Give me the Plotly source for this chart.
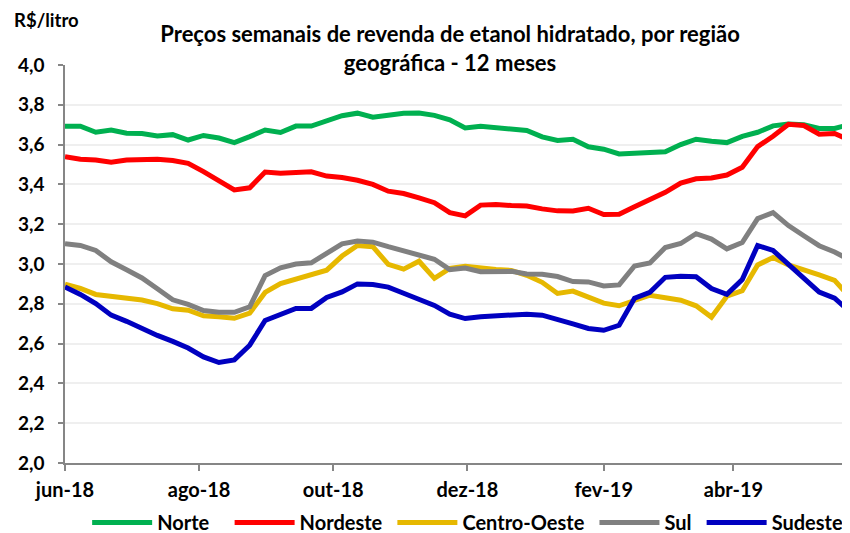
import pandas as pd
import plotly.graph_objects as go

# weekly dates (12 months)
dates = pd.date_range("2018-06-03", periods=52, freq="7D")

norte = [3.692, 3.692, 3.662, 3.673, 3.657, 3.656, 3.643, 3.650, 3.623, 3.646,
         3.633, 3.610, 3.640, 3.673, 3.661, 3.693, 3.693, 3.721, 3.745, 3.758,
         3.738, 3.747, 3.757, 3.759, 3.747, 3.725, 3.684, 3.692, 3.683, 3.677,
         3.671, 3.639, 3.621, 3.627, 3.589, 3.577, 3.553, 3.556, 3.560, 3.564,
         3.600, 3.627, 3.617, 3.610, 3.641, 3.662, 3.694, 3.703, 3.700, 3.681,
         3.681, 3.702]
nordeste = [3.539, 3.526, 3.523, 3.511, 3.522, 3.526, 3.526, 3.520, 3.506, 3.464,
            3.415, 3.372, 3.383, 3.462, 3.456, 3.460, 3.463, 3.442, 3.435, 3.421,
            3.400, 3.366, 3.354, 3.332, 3.308, 3.258, 3.242, 3.296, 3.299, 3.294,
            3.291, 3.277, 3.267, 3.266, 3.280, 3.249, 3.250, 3.288, 3.325, 3.360,
            3.407, 3.428, 3.432, 3.447, 3.486, 3.590, 3.642, 3.702, 3.696, 3.652,
            3.656, 3.622]
centro_oeste = [2.899, 2.877, 2.847, 2.837, 2.831, 2.819, 2.801, 2.775, 2.768, 2.740,
                2.735, 2.727, 2.753, 2.857, 2.902, 2.923, 2.943, 2.969, 3.040, 3.093,
                3.087, 2.998, 2.974, 3.014, 2.928, 2.978, 2.988, 2.978, 2.972, 2.968,
                2.943, 2.908, 2.852, 2.864, 2.833, 2.803, 2.790, 2.815, 2.843, 2.830,
                2.818, 2.790, 2.733, 2.838, 2.866, 2.995, 3.033, 2.995, 2.972, 2.945,
                2.918, 2.833]
sul = [3.102, 3.093, 3.068, 3.011, 2.971, 2.930, 2.876, 2.820, 2.797, 2.766,
       2.758, 2.757, 2.785, 2.942, 2.981, 3.000, 3.006, 3.055, 3.101, 3.115,
       3.110, 3.087, 3.066, 3.040, 3.024, 2.972, 2.980, 2.961, 2.963, 2.963,
       2.950, 2.948, 2.937, 2.912, 2.910, 2.890, 2.895, 2.990, 3.005, 3.083,
       3.103, 3.152, 3.125, 3.076, 3.108, 3.228, 3.258, 3.193, 3.142, 3.092,
       3.060, 3.020]
sudeste = [2.884, 2.847, 2.801, 2.743, 2.712, 2.673, 2.641, 2.611, 2.578, 2.533,
           2.505, 2.518, 2.592, 2.716, 2.744, 2.777, 2.777, 2.832, 2.860, 2.900,
           2.897, 2.884, 2.853, 2.823, 2.792, 2.748, 2.726, 2.735, 2.740, 2.740,
           2.748, 2.743, 2.718, 2.699, 2.676, 2.667, 2.692, 2.828, 2.858, 2.933,
           2.938, 2.936, 2.877, 2.848, 2.922, 3.093, 3.068, 2.997, 2.922, 2.859,
           2.828, 2.760]

series_names = ["Norte", "Nordeste", "Centro-Oeste", "Sul", "Sudeste"]
series_values = [norte, nordeste, centro_oeste, sul, sudeste]
series_colors = ["#00B050", "#FF0000", "#E6B800", "#808080", "#0000C0"]
legend_pad = [3, 1, 1, 1, 0]  # extra spacing after each legend entry

tick_dates = ["2018-06-03", "2018-08-03", "2018-10-03", "2018-12-03", "2019-02-03", "2019-04-03"]
tick_labels = ["jun-18", "ago-18", "out-18", "dez-18", "fev-19", "abr-19"]

FONT = "Lato, Open Sans, sans-serif"

fig = go.Figure()
for name, vals, col, pad in zip(series_names, series_values, series_colors, legend_pad):
    fig.add_trace(go.Scatter(x=dates, y=vals, mode="lines",
                             name="<b>%s</b>%s" % (name, "\u00a0" * pad),
                             hovertemplate="%{y:.3f}<extra>" + name + "</extra>",
                             line=dict(color=col, width=5)))

# the page body adds an 8px margin; the figure is sized so that the plot
# lands at the same place as in the reference picture
fig.update_layout(
    width=842, height=525,
    margin=dict(l=57, r=0, t=57, b=70, autoexpand=False),
    paper_bgcolor="white", plot_bgcolor="white",
    separators=",.",
    font=dict(family=FONT, size=20, color="black"),
    title=dict(text="<b>Preços semanais de revenda de etanol hidratado, por região<br>geográfica - 12 meses</b>",
               x=0.525, xanchor="center", xref="container",
               y=0.935, yanchor="top", yref="container",
               font=dict(family=FONT, size=22, color="black")),
    legend=dict(orientation="h", xref="container", yref="container",
                x=0.094, xanchor="left", y=0.02, yanchor="middle",
                font=dict(family=FONT, size=20, color="black"),
                itemwidth=60, tracegroupgap=0),
    showlegend=True,
)
fig.update_xaxes(type="date", range=["2018-06-03", "2019-05-26"],
                 tickmode="array", tickvals=tick_dates,
                 ticktext=["<b>%s</b>" % t for t in tick_labels],
                 showgrid=False, showline=True, linecolor="#868686", linewidth=1.5,
                 ticks="outside", ticklen=6, tickcolor="#868686", tickwidth=1.5,
                 ticklabelstandoff=2,
                 tickfont=dict(family=FONT, size=20, color="black"))
fig.update_yaxes(range=[2, 4], tickmode="array",
                 tickvals=[2.0 + 0.2 * k for k in range(11)],
                 ticktext=["<b>%s</b>" % ("%.1f" % (2.0 + 0.2 * k)).replace(".", ",") for k in range(11)],
                 showgrid=True, gridcolor="#efefef", gridwidth=1.5,
                 showline=True, linecolor="#868686", linewidth=1.5,
                 ticks="outside", ticklen=5, tickcolor="#868686", tickwidth=1.5,
                 ticklabelstandoff=10,
                 tickfont=dict(family=FONT, size=19, color="black"), zeroline=False)
fig.add_annotation(text="<b>R$/litro</b>", xref="paper", yref="paper",
                   x=-0.068, y=1.0, xanchor="left", yanchor="bottom", yshift=32,
                   showarrow=False, font=dict(family=FONT, size=18.5, color="black"))

fig.write_html("out.html")
